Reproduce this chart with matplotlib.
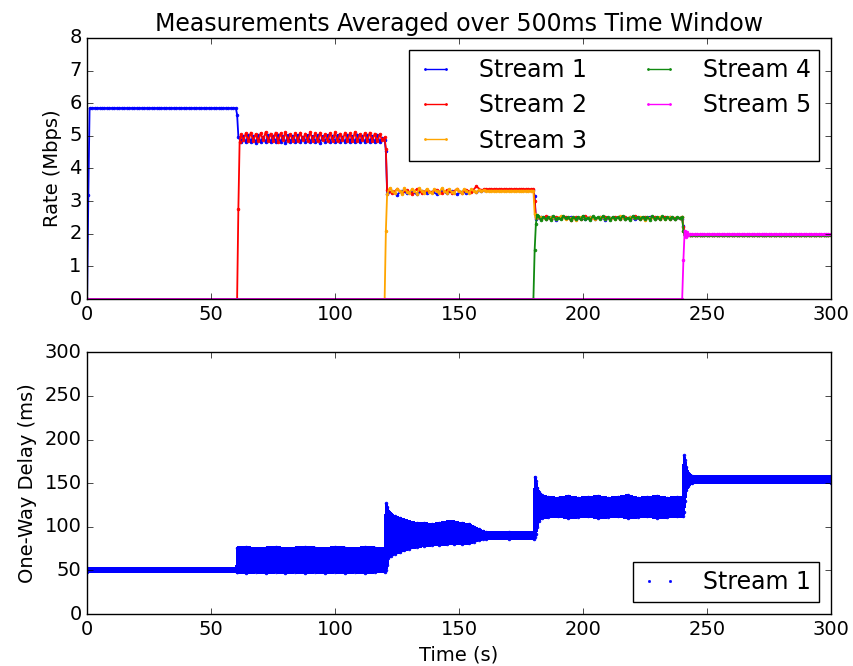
import numpy as np
import matplotlib
matplotlib.use("Agg")
import matplotlib.pyplot as plt

plt.style.use("classic")

# ---- rate samples (Mbps), one list per segment of each stream ----
s1_osc_a = [4.98, 4.81, 5.00, 4.80, 5.03, 4.82, 4.99, 4.79, 5.02, 4.81, 4.98, 4.80,
            5.03, 4.80, 5.00, 4.82, 5.04, 4.80, 4.99, 4.79, 5.02, 4.81, 5.01, 4.80,
            5.03, 4.80, 4.98, 4.82, 5.03, 4.80, 5.00, 4.81, 5.02, 4.79, 4.99, 4.82,
            5.03, 4.80, 5.01, 4.80, 5.03, 4.81, 4.98, 4.80, 5.02, 4.82, 5.00, 4.80,
            5.04, 4.81, 4.99, 4.80, 5.02, 4.82, 5.00, 4.80, 5.03, 4.82, 4.94, 4.86]
s1_osc_b = [3.22, 3.30, 3.20, 3.32, 3.24, 3.28, 3.21, 3.31, 3.25, 3.29,
            3.22, 3.33, 3.24, 3.30, 3.21, 3.29, 3.26, 3.31, 3.28, 3.32]
s1_noise = [2.44, 2.50, 2.46, 2.52, 2.43, 2.49, 2.47, 2.51, 2.45, 2.48,
            2.44, 2.52, 2.46, 2.50, 2.43, 2.49, 2.47, 2.51, 2.45, 2.50,
            2.44, 2.48, 2.46, 2.52, 2.45, 2.49, 2.47, 2.50, 2.44, 2.48]

s2_osc_a = [5.05, 4.86, 5.08, 4.84, 5.10, 4.85, 5.06, 4.83, 5.09, 4.86, 5.12, 4.84,
            5.07, 4.85, 5.10, 4.82, 5.08, 4.86, 5.11, 4.84, 5.06, 4.85, 5.09, 4.83,
            5.10, 4.86, 5.07, 4.84, 5.12, 4.85, 5.08, 4.83, 5.10, 4.86, 5.06, 4.84,
            5.09, 4.85, 5.11, 4.83, 5.07, 4.86, 5.10, 4.84, 5.08, 4.85, 5.12, 4.83,
            5.06, 4.86, 5.09, 4.84, 5.10, 4.85, 5.07, 4.83, 5.05, 4.88, 4.95]
s2_osc_b = [3.34, 3.24, 3.36, 3.26, 3.33, 3.23, 3.37, 3.25, 3.34, 3.27,
            3.35, 3.24, 3.33, 3.26, 3.36, 3.25, 3.34, 3.28, 3.45, 3.33]
s2_noise = [2.50, 2.45, 2.53, 2.44, 2.51, 2.47, 2.52, 2.43, 2.50, 2.46,
            2.53, 2.45, 2.49, 2.47, 2.52, 2.44, 2.51, 2.46, 2.50, 2.45,
            2.53, 2.44, 2.51, 2.47, 2.50, 2.45, 2.52, 2.46, 2.49, 2.47]

s3_osc = [3.22, 3.40, 3.30, 3.24, 3.38, 3.31, 3.23, 3.39, 3.29, 3.25,
          3.37, 3.30, 3.23, 3.39, 3.31, 3.24, 3.38, 3.29, 3.25, 3.36,
          3.30, 3.24, 3.39, 3.31, 3.25, 3.37, 3.29, 3.24, 3.38, 3.30,
          3.26, 3.36, 3.31, 3.25, 3.37, 3.30, 3.27, 3.35, 3.32, 3.33]
s3_noise = [2.47, 2.52, 2.44, 2.50, 2.46, 2.53, 2.45, 2.49, 2.43, 2.51,
            2.47, 2.50, 2.44, 2.52, 2.46, 2.49, 2.45, 2.53, 2.44, 2.50,
            2.47, 2.51, 2.43, 2.49, 2.46, 2.52, 2.45, 2.50, 2.46, 2.49]

s4_noise = [2.55, 2.42, 2.52, 2.45, 2.50, 2.43, 2.54, 2.46, 2.49, 2.44, 2.53, 2.47,
            2.50, 2.42, 2.52, 2.45, 2.51, 2.44, 2.55, 2.46, 2.49, 2.43, 2.53, 2.47,
            2.50, 2.44, 2.54, 2.45, 2.51, 2.43, 2.52, 2.46, 2.50, 2.44, 2.55, 2.45,
            2.49, 2.43, 2.53, 2.47, 2.51, 2.44, 2.52, 2.46, 2.50, 2.43, 2.54, 2.45,
            2.51, 2.44, 2.53, 2.46, 2.50, 2.45, 2.52, 2.44, 2.51, 2.47, 2.50]

s5_start = [1.20, 2.10, 1.90, 2.04, 1.95]


def piece(t0, step, vals):
    return [t0 + step * i for i in range(len(vals))], list(vals)


def join(*pieces):
    t, v = [], []
    for pt, pv in pieces:
        t += pt
        v += pv
    return np.array(t), np.array(v)


stream1 = join(piece(0, 0.5, [0.0, 3.2]), piece(1, 1, [5.85] * 60),
               piece(60.5, 0.5, [5.65]), piece(61, 1, s1_osc_a),
               piece(120.5, 0.5, [4.55]), piece(121, 2, s1_osc_b),
               piece(160, 1, [3.33] * 21), piece(180.5, 0.5, [3.15]),
               piece(181, 2, s1_noise), piece(240, 0.5, [2.45, 2.25]),
               piece(241, 1, [1.96] * 60))
stream2 = join(piece(0, 60.5, [0.0, 0.0]), piece(61, 0.5, [2.75, 4.80]),
               piece(62, 1, s2_osc_a), piece(120.5, 0.5, [4.60]),
               piece(121, 2, s2_osc_b), piece(160, 1, [3.36] * 21),
               piece(180.5, 0.5, [3.0]), piece(181, 2, s2_noise),
               piece(240, 0.5, [2.5, 2.2]), piece(241, 1, [1.97] * 60))
stream3 = join(piece(0, 120, [0.0, 0.0]), piece(120.5, 0.5, [2.1]),
               piece(121, 1, s3_osc), piece(161, 1, [3.32] * 20),
               piece(180.5, 0.5, [2.6]), piece(181, 2, s3_noise),
               piece(240, 0.5, [2.5, 2.1]), piece(241, 1, [1.97] * 60))
stream4 = join(piece(0, 180, [0.0, 0.0]), piece(180.5, 0.5, [1.5, 2.3, 2.58]),
               piece(182, 1, s4_noise), piece(240.5, 0.5, [2.1]),
               piece(241, 1, [1.95] * 60))
stream5 = join(piece(0, 240, [0.0, 0.0]), piece(240.5, 0.5, s5_start),
               piece(243, 1, [1.98] * 58))

streams = [stream1, stream2, stream3, stream4, stream5]
labels = ["Stream 1", "Stream 2", "Stream 3", "Stream 4", "Stream 5"]
colors = ["#0000ff", "#ff0000", "#ffa500", "#108a10", "#ff00ff"]

# ---- one-way delay of stream 1 (ms): band edges at knots ----
delay_t = [0, 60.3, 60.6,
           64, 68, 72, 76, 80, 84, 88, 92, 96, 100, 104, 108, 112, 116, 120.2,
           120.5, 121.0, 121.5, 122.5, 124, 126, 128, 130, 133, 136, 139, 142, 145, 148, 151, 154, 156, 158, 159.5,
           161, 170, 180.2, 180.6,
           181.0, 181.5, 182.2, 183.3, 186, 190, 194, 198, 202, 206, 210, 214, 218, 222, 226, 230, 234, 238, 240.3,
           240.7, 241.1, 241.6, 242.5, 244, 300]
delay_lo = [48, 48, 48,
            47, 48, 47, 48, 47, 48, 47, 48, 47, 48, 47, 48, 47, 48, 48,
            50, 56, 64, 67, 69, 71, 73, 75, 77, 78, 79, 79, 80, 80, 80, 81, 83, 85, 86,
            86, 86, 86, 88,
            92, 100, 107, 110, 111, 112, 110, 111, 112, 110, 111, 112, 110, 111, 112, 110, 111, 112, 112,
            117, 130, 142, 147, 150, 150]
delay_hi = [53, 53, 76,
            77, 75, 76, 77, 75, 76, 77, 76, 75, 77, 76, 75, 77, 76, 76,
            127, 123, 118, 115, 112, 110, 108, 106, 104, 104, 103, 104, 106, 106, 104, 103, 100, 97, 95,
            94, 94, 94, 157,
            152, 145, 140, 136, 134, 133, 135, 133, 134, 135, 133, 134, 136, 133, 134, 135, 133, 134, 134,
            182, 176, 168, 162, 158, 158]

fig = plt.figure(figsize=(8.54, 6.66), dpi=100, facecolor="w")
ax1 = fig.add_axes([0.102, 0.551, 0.871, 0.392])
ax2 = fig.add_axes([0.102, 0.078, 0.871, 0.393])

for (t, v), lab, c in zip(streams, labels, colors):
    ax1.plot(t, v, color=c, lw=1.3, marker=".", ms=4, mec=c, label=lab)
ax1.set_xlim(0, 300)
ax1.set_ylim(0, 8)
ax1.set_ylabel("Rate (Mbps)", fontsize=14)
ax1.set_title("Measurements Averaged over 500ms Time Window", fontsize=17)
leg = ax1.legend(loc="upper right", ncol=2, fontsize=17, numpoints=2,
                 handlelength=1.5, handletextpad=1.1, columnspacing=2.3,
                 labelspacing=0.48, borderpad=0.35, markerscale=0.7)
for h in leg.get_lines():
    h.set_linewidth(1.0)

# band of per-packet delays, outlined with the sample points
band_x = np.concatenate([delay_t, delay_t[::-1]])
band_y = np.concatenate([delay_hi, delay_lo[::-1]])
ax2.fill(band_x, band_y, facecolor="#0000ff", edgecolor="#0000ff", lw=1.0,
         antialiased=False)
ax2.plot(delay_t, delay_hi, ".", color="#0000ff", mec="#0000ff", ms=4, label="Stream 1")
ax2.plot(delay_t, delay_lo, ".", color="#0000ff", mec="#0000ff", ms=4)
ax2.set_xlim(0, 300)
ax2.set_ylim(0, 300)
ax2.set_xlabel("Time (s)", fontsize=14)
ax2.set_ylabel("One-Way Delay (ms)", fontsize=14)
ax2.legend(loc="lower right", fontsize=17, numpoints=2, handlelength=1.5,
           handletextpad=1.1, borderpad=0.35, markerscale=0.8)

for ax in (ax1, ax2):
    ax.tick_params(labelsize=14)

fig.savefig("out.png", dpi=100, facecolor="w")
